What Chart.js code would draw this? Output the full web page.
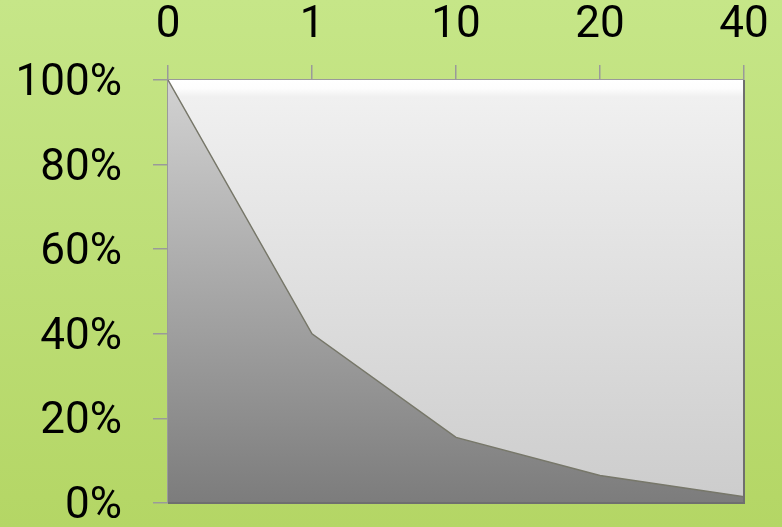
<!DOCTYPE html>
<html lang="en">
<head>
  <meta charset="UTF-8">
  <title>Stacked area</title>
  <script src="https://cdn.jsdelivr.net/npm/chart.js"></script>
  <style>
    html, body {
      margin: 0;
      padding: 0;
    }
    body {
      width: 782px;
      height: 527px;
      overflow: hidden;
      background: linear-gradient(to bottom, #c6e688, #b4d665);
    }
    .wrap {
      position: relative;
      width: 782px;
      height: 527px;
    }
  </style>
</head>
<body>
  <div class="wrap">
    <canvas id="areaChart"></canvas>
  </div>

  <script>
    const categories = ['0', '1', '10', '20', '40'];
    const lowerValues = [100, 40, 15.5, 6.5, 1.5];
    const upperValues = [0, 60, 84.5, 93.5, 98.5];
    const yTicks = [0, 20, 40, 60, 80, 100];

    const fontFace = 'Roboto, Lato, sans-serif';

    const upperFill = (context) => {
      const area = context.chart.chartArea;
      if (!area) return '#dddddd';
      const g = context.chart.ctx.createLinearGradient(0, area.top, 0, area.bottom);
      g.addColorStop(0, '#ffffff');
      g.addColorStop(0.02, '#fdfdfd');
      g.addColorStop(0.04, '#f0f0f0');
      g.addColorStop(1, '#cccccc');
      return g;
    };

    const lowerFill = (context) => {
      const area = context.chart.chartArea;
      if (!area) return '#999999';
      const g = context.chart.ctx.createLinearGradient(0, area.top, 0, area.bottom);
      g.addColorStop(0, '#d2d2d2');
      g.addColorStop(1, '#7c7c7c');
      return g;
    };

    // dark edge at right and bottom of the plot area
    const frameEdge = {
      id: 'frameEdge',
      afterDatasetsDraw(chart) {
        const { ctx, chartArea: a } = chart;
        ctx.save();
        ctx.strokeStyle = '#6f6f6f';
        ctx.lineWidth = 2;
        ctx.beginPath();
        ctx.moveTo(a.right, a.top);
        ctx.lineTo(a.right, a.bottom);
        ctx.lineTo(a.left, a.bottom);
        ctx.stroke();
        ctx.restore();
      }
    };

    const ctx = document.getElementById('areaChart').getContext('2d');
    new Chart(ctx, {
      type: 'line',
      data: {
        labels: categories,
        datasets: [
          {
            label: 'Lower',
            data: lowerValues,
            fill: 'origin',
            backgroundColor: lowerFill,
            borderColor: '#77776a',
            borderWidth: 1.5,
            pointRadius: 0,
            tension: 0
          },
          {
            label: 'Upper',
            data: upperValues,
            fill: '-1',
            backgroundColor: upperFill,
            borderColor: 'rgba(0,0,0,0)',
            borderWidth: 0,
            pointRadius: 0,
            tension: 0
          }
        ]
      },
      options: {
        responsive: true,
        maintainAspectRatio: false,
        animation: false,
        layout: {
          padding: 0
        },
        plugins: {
          legend: { display: false },
          tooltip: { enabled: false }
        },
        scales: {
          x: {
            position: 'top',
            offset: false,
            afterFit(axis) {
              axis.height = 80;
              axis.paddingLeft = 0;
              axis.paddingRight = 38;
            },
            grid: {
              drawOnChartArea: false,
              drawTicks: true,
              tickLength: 15,
              color: '#9a9a9a',
              lineWidth: 1.5
            },
            border: { display: true, color: '#9a9a9a', width: 1.5 },
            ticks: {
              color: '#000000',
              padding: 13,
              maxRotation: 0,
              autoSkip: false,
              font: { family: fontFace, size: 44 }
            }
          },
          y: {
            stacked: true,
            min: 0,
            max: 100,
            afterBuildTicks(axis) {
              axis.ticks = yTicks.map(v => ({ value: v }));
            },
            afterFit(axis) {
              axis.width = 168;
              axis.paddingTop = 0;
              axis.paddingBottom = 24;
            },
            grid: {
              drawOnChartArea: false,
              drawTicks: true,
              tickLength: 15,
              color: '#9a9a9a',
              lineWidth: 1.5
            },
            border: { display: true, color: '#9a9a9a', width: 1.5 },
            ticks: {
              color: '#000000',
              padding: 31,
              labelOffset: 4,
              font: { family: fontFace, size: 44 },
              callback: v => v + '%'
            }
          }
        }
      },
      plugins: [frameEdge]
    });
  </script>
</body>
</html>
